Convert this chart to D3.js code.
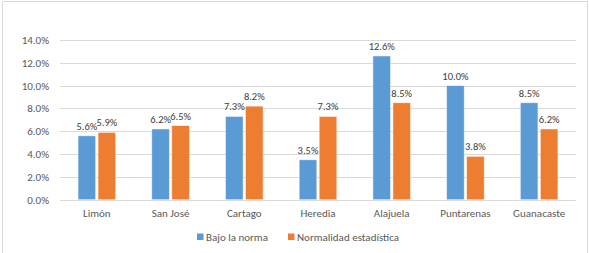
<!DOCTYPE html>
<html>
  <head>
    <meta charset="utf-8">
    <style>
      body { margin: 0; background: #fff; }
      text { font-family: Calibri, Carlito, "Liberation Sans", "Open Sans", sans-serif; }
      .axis path, .axis line { display: none; }
      .axis text { fill: #595959; font-size: 11px; }
      .grid line { stroke: #d9d9d9; stroke-width: 1; }
    </style>
    <script src="https://d3js.org/d3.v7.min.js"></script>
  </head>
  <body>
    <svg class="chart"></svg>
    <script>
      const provincias = ["Limón", "San José", "Cartago", "Heredia", "Alajuela", "Puntarenas", "Guanacaste"];
      const series = ["Bajo la norma", "Normalidad estadística"];
      const bajoNorma = [5.6, 6.2, 7.3, 3.5, 12.6, 10.0, 8.5];
      const normalidad = [5.9, 6.5, 8.2, 7.3, 8.5, 3.8, 6.2];
      const yTicks = [0, 2, 4, 6, 8, 10, 12, 14];
      const colors = ["#5b9bd5", "#ed7d31"];

      const W = 589, H = 253;
      const margin = {top: 40, right: 13, bottom: 53, left: 60};
      const width = W - margin.left - margin.right,
            height = 199.7 - margin.top;

      const svg = d3.select(".chart").attr("width", W).attr("height", H);

      // marco
      svg.append("path")
        .attr("d", `M2.5,${H} V1.5 H587.5 V${H}`)
        .attr("fill", "none")
        .attr("stroke", "#d9d9d9");

      const g = svg.append("g")
        .attr("transform", `translate(${margin.left}, ${margin.top})`);

      const x = d3.scaleBand().domain(provincias).range([0, width]);
      const x1 = d3.scaleBand().domain(series).range([-18.8, 18.8]).paddingInner(0.12);
      const y = d3.scaleLinear().domain([0, 14]).range([height, 0]);

      g.append("g").attr("class", "grid")
        .selectAll("line").data(yTicks).enter()
        .append("line")
        .attr("x1", 0).attr("x2", width)
        .attr("y1", d => Math.round(y(d)) + 0.5)
        .attr("y2", d => Math.round(y(d)) + 0.5);

      g.append("g").attr("class", "axis")
        .call(d3.axisLeft(y).tickValues(yTicks).tickFormat(d => d.toFixed(1) + "%").tickSize(0).tickPadding(11));

      g.append("g").attr("class", "axis")
        .attr("transform", `translate(0, ${height})`)
        .call(d3.axisBottom(x).tickSize(0).tickPadding(10));

      const data = provincias.map((p, i) => ({p, vals: [bajoNorma[i], normalidad[i]]}));

      const grp = g.selectAll(".grp").data(data).enter()
        .append("g")
        .attr("transform", d => `translate(${x(d.p) + x.bandwidth() / 2}, 0)`);

      grp.selectAll("rect").data(d => d.vals.map((v, k) => ({v, s: series[k], k}))).enter()
        .append("rect")
        .attr("x", d => x1(d.s))
        .attr("width", x1.bandwidth())
        .attr("y", d => y(d.v))
        .attr("height", d => height - y(d.v))
        .attr("fill", d => colors[d.k])
        .attr("stroke", "#fff")
        .attr("stroke-opacity", 0.6)
        .attr("stroke-width", 0.8);

      grp.selectAll(".lbl").data(d => d.vals.map((v, k) => ({v, s: series[k], k}))).enter()
        .append("text")
        .attr("class", "lbl")
        .attr("x", d => x1(d.s) + x1.bandwidth() / 2)
        .attr("y", d => y(d.v) - 6)
        .attr("text-anchor", "middle")
        .attr("font-size", 10.5)
        .attr("fill", "#404040")
        .text(d => d.v.toFixed(1) + "%");

      // leyenda
      const legX = [197, 288];
      const leg = svg.append("g").selectAll("g").data(series).enter()
        .append("g")
        .attr("transform", (d, i) => `translate(${legX[i]}, 237)`);
      leg.append("rect")
        .attr("x", 0).attr("y", -3.5)
        .attr("width", 6.5).attr("height", 6.5)
        .attr("fill", (d, i) => colors[i]);
      leg.append("text")
        .attr("x", 9).attr("y", 0)
        .attr("dy", "0.35em")
        .attr("font-size", 11)
        .attr("fill", "#595959")
        .text(d => d);
    </script>
  </body>
</html>
